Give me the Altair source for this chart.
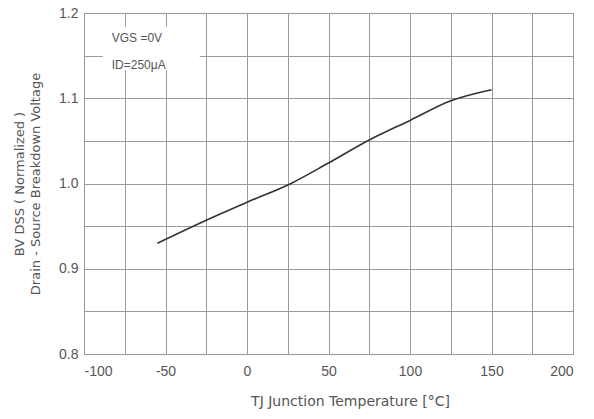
import altair as alt
import pandas as pd

temps = [-55, -25, 0, 27, 50, 75, 100, 125, 150]
bvdss = [0.930, 0.957, 0.978, 1.000, 1.024, 1.051, 1.074, 1.097, 1.110]

note_x = [-83, -83]
note_y = [1.171, 1.139]
note_text = ["VGS =0V", "ID=250\u03bcA"]

# white label box behind the notes (data units)
box_x = [-88.5]
box_x2 = [-29]
box_y = [1.184]
box_y2 = [1.133]

x_grid = list(range(-100, 201, 25))
y_grid = [0.8, 0.85, 0.9, 0.95, 1.0, 1.05, 1.1, 1.15, 1.2]

df = pd.DataFrame({"T": temps, "BV": bvdss})
notes = pd.DataFrame({"x": note_x, "y": note_y, "t": note_text})
box = pd.DataFrame({"x": box_x, "x2": box_x2, "y": box_y, "y2": box_y2})

FONT = "Liberation Sans"
TFONT = "DejaVu Sans"
GREY = "#555555"

x_scale = alt.Scale(domain=[-100, 200], nice=False, zero=False)
y_scale = alt.Scale(domain=[0.8, 1.2], nice=False, zero=False)

x_axis = alt.Axis(
    values=x_grid,
    labelExpr="abs(round(datum.value)) % 50 == 0 ? '' + datum.value : ''",
    grid=True, gridColor="#9a9a9a", gridWidth=1,
    domain=False, ticks=False, labelPadding=10, labelFontSize=14,
    labelColor=GREY, labelFont=FONT,
    title="TJ Junction Temperature [\u00b0C]", titleFont=TFONT, titleFontSize=14,
    titleFontWeight="normal", titleColor=GREY, titlePadding=16, titleX=266,
)
y_axis = alt.Axis(
    values=y_grid,
    labelExpr="abs(round(datum.value * 100)) % 10 == 0 ? format(datum.value, '.1f') : ''",
    grid=True, gridColor="#9a9a9a", gridWidth=1,
    domain=False, ticks=False, labelPadding=6, labelFontSize=14,
    labelColor=GREY, labelFont=FONT,
    title=["BV DSS ( Normalized )", "Drain - Source Breakdown Voltage"],
    titleFont=TFONT, titleFontSize=13, titleFontWeight="normal", titleColor=GREY,
    titlePadding=16, titleLineHeight=16,
)

rect = alt.Chart(box).mark_rect(color="white").encode(
    x=alt.X("x:Q", scale=x_scale, axis=x_axis),
    x2="x2:Q",
    y=alt.Y("y:Q", scale=y_scale, axis=y_axis),
    y2="y2:Q",
)

line = alt.Chart(df).mark_line(color="#333333", strokeWidth=1.6, interpolate="monotone").encode(
    x=alt.X("T:Q", scale=x_scale),
    y=alt.Y("BV:Q", scale=y_scale),
)

text = alt.Chart(notes).mark_text(
    align="left", baseline="middle", font=FONT, fontSize=12, color=GREY
).encode(
    x=alt.X("x:Q", scale=x_scale),
    y=alt.Y("y:Q", scale=y_scale),
    text="t:N",
)

chart = (rect + line + text).properties(
    width=489, height=341,
    autosize=alt.AutoSizeParams(type="none"),
    padding={"left": 84, "top": 13, "right": 21, "bottom": 65},
).configure_view(
    stroke="#222222", strokeWidth=1.5
).configure(background="white")

chart.save("out.html", embed_options={"renderer": "svg", "actions": False})
